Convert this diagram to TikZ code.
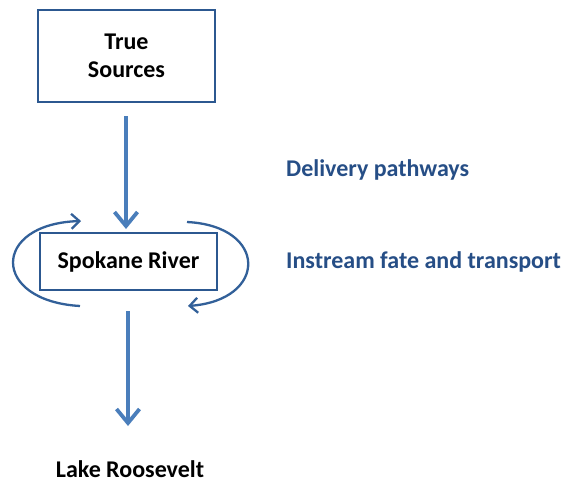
\documentclass[tikz,border=0pt]{standalone}
\usepackage{fontspec}
\setmainfont{Carlito}
\usetikzlibrary{arrows.meta}
\definecolor{boxblue}{HTML}{2C5890}
\definecolor{arrowblue}{HTML}{4A7EBB}
\definecolor{textblue}{HTML}{264E86}
\tikzset{
  boxnode/.style={draw=boxblue, line width=2.8pt, fill=white, font=\bfseries\fontsize{24}{28}\selectfont, align=center, inner sep=0pt},
  flow/.style={draw=arrowblue, line width=4pt, -{Straight Barb[length=14pt, width=23pt, line width=3.8pt]}},
  loop/.style={draw=boxblue!80!arrowblue, line width=2.3pt, -{Straight Barb[length=8pt, width=15pt, line width=2.3pt]}},
  lab/.style={font=\bfseries\fontsize{24}{28}\selectfont, text=textblue, anchor=west, inner sep=0pt},
  plain/.style={font=\bfseries\fontsize{24}{28}\selectfont, inner sep=0pt}
}
\begin{document}
\begin{tikzpicture}[x=1pt, y=-1pt]
\useasboundingbox (0,0) rectangle (563,482);
\node[boxnode, minimum width=177pt, minimum height=92pt] (src) at (126.5,56) {True\\Sources};
\node[boxnode, minimum width=177pt, minimum height=57pt] (riv) at (128.5,261.5) {Spokane River};
\node[plain, anchor=base] (lake) at (130,477) {Lake Roosevelt};
\node[lab] (dp) at (286,170) {Delivery pathways};
\node[lab] (ift) at (286,262) {Instream fate and transport};
\coordinate (a1s) at (126,116);
\coordinate (a1e) at (126,229);
\coordinate (a2s) at (128,311);
\coordinate (a2e) at (128,426);
\draw[flow] (a1s) -- (a1e);
\draw[flow] (a2s) -- (a2e);
\coordinate (l1) at (80,306);
\coordinate (l2) at (81,221);
\coordinate (r1) at (187,222);
\coordinate (r2) at (188,306);
\draw[loop] (l1) .. controls (-9,301) and (-9,224) .. (l2);
\draw[loop] (r1) .. controls (268,226) and (268,300) .. (r2);
\end{tikzpicture}
\end{document}
